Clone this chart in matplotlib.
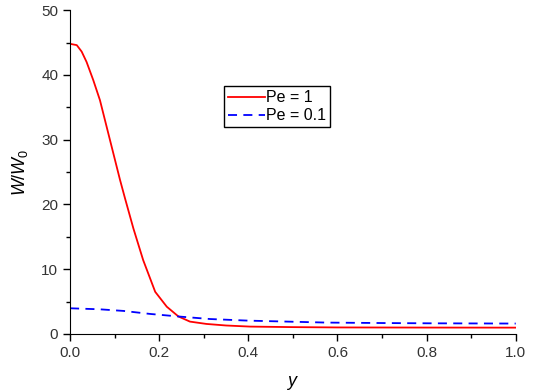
import matplotlib
matplotlib.use('Agg')
import matplotlib.pyplot as plt
from matplotlib.ticker import MultipleLocator, FormatStrFormatter

plt.rcParams['font.family'] = ['Liberation Sans', 'DejaVu Sans']
plt.rcParams['mathtext.fontset'] = 'custom'
plt.rcParams['mathtext.it'] = 'Liberation Sans:italic'
plt.rcParams['mathtext.rm'] = 'Liberation Sans'

# Pe = 1
y_pe1 = [0.0, 0.015, 0.026, 0.037, 0.052, 0.067, 0.082, 0.097, 0.112, 0.123,
         0.142, 0.164, 0.191, 0.217, 0.243, 0.269, 0.306, 0.35, 0.404, 0.5,
         0.6, 0.8, 1.0]
w_pe1 = [44.8, 44.6, 43.6, 42.0, 39.2, 36.1, 32.0, 27.9, 23.8, 21.0,
         16.3, 11.4, 6.5, 4.2, 2.7, 1.9, 1.54, 1.3, 1.13, 1.05,
         1.0, 0.98, 0.97]

# Pe = 0.1
y_pe01 = [0.0, 0.067, 0.12, 0.179, 0.247, 0.314, 0.4, 0.5, 0.575, 0.7, 0.8, 0.9, 1.0]
w_pe01 = [3.96, 3.8, 3.55, 3.09, 2.67, 2.3, 2.05, 1.88, 1.75, 1.68, 1.64, 1.62, 1.6]

fig = plt.figure(figsize=(5.35, 3.91), dpi=100)
ax = fig.add_axes([0.131, 0.146, 0.833, 0.828])

ax.plot(y_pe1, w_pe1, color='red', lw=1.3, label='Pe = 1')
ax.plot(y_pe01, w_pe01, color='blue', lw=1.3, ls=(0, (5, 3.5)), label='Pe = 0.1')

ax.set_xlim(0, 1.0)
ax.set_ylim(0, 50)
ax.xaxis.set_major_locator(MultipleLocator(0.2))
ax.xaxis.set_minor_locator(MultipleLocator(0.1))
ax.yaxis.set_major_locator(MultipleLocator(10))
ax.yaxis.set_minor_locator(MultipleLocator(5))
ax.xaxis.set_major_formatter(FormatStrFormatter('%.1f'))

for s in ['top', 'right']:
    ax.spines[s].set_visible(False)
ax.tick_params(which='major', length=5, width=1, labelsize=11, colors='black', labelcolor='#333333')
ax.tick_params(which='minor', length=3, width=1)

ax.set_xlabel('$\\it{y}$', fontsize=13, labelpad=10)
ax.set_ylabel('$\\it{W/W}_0$', fontsize=13, labelpad=8)

leg = ax.legend(loc='upper left', bbox_to_anchor=(0.345, 0.765), fontsize=11.5,
                frameon=True, fancybox=False, framealpha=1, edgecolor='black',
                handlelength=2.3, handletextpad=0.1, borderpad=0.25, labelspacing=0.2,
                borderaxespad=0)
leg.get_frame().set_linewidth(1.0)

fig.savefig('out.png', dpi=100)
